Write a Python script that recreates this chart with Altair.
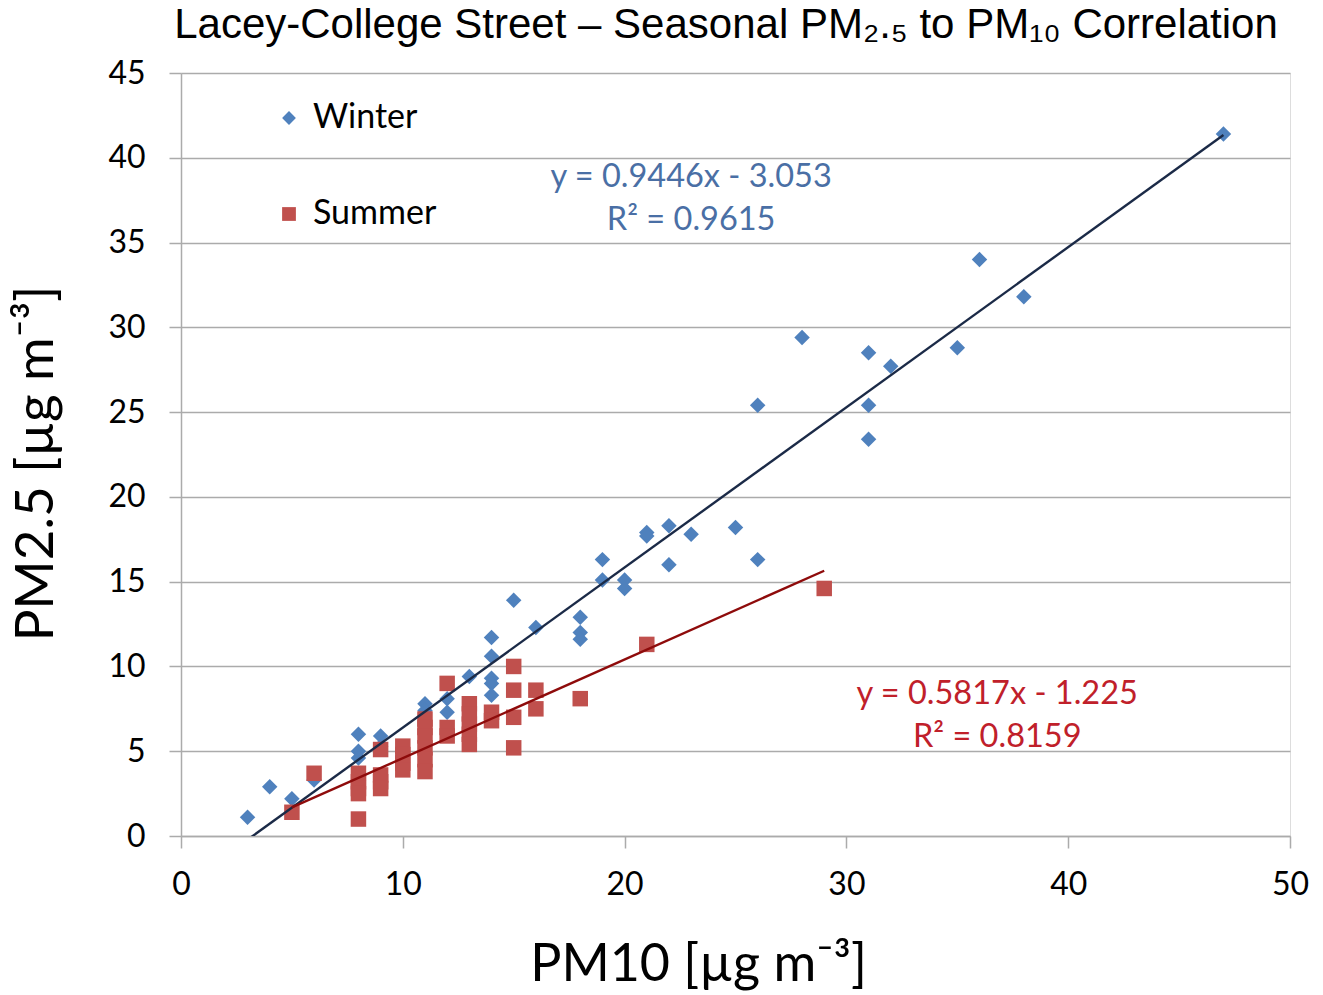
import altair as alt
import pandas as pd

# ---------------- data ----------------
winter_x = [3, 4, 5, 6, 8, 8, 8, 9, 9, 11, 11, 12, 12, 13, 14, 14, 14, 14, 14,
            15, 16, 18, 18, 18, 19, 19, 20, 20, 21, 21, 22, 22, 23, 25, 26, 26,
            28, 31, 31, 31, 32, 35, 36, 38, 47]
winter_y = [1.1, 2.9, 2.2, 3.3, 6.0, 5.0, 4.6, 5.9, 5.3, 7.8, 7.4, 8.1, 7.3, 9.4,
            11.7, 10.6, 9.3, 9.0, 8.3, 13.9, 12.3, 12.9, 12.0, 11.6, 16.3, 15.1,
            15.1, 14.6, 17.9, 17.7, 18.3, 16.0, 17.8, 18.2, 16.3, 25.4, 29.4,
            28.5, 25.4, 23.4, 27.7, 28.8, 34.0, 31.8, 41.4]

summer_x = [5, 6, 8, 8, 8, 8, 8, 9, 9, 9, 9, 10, 10, 10, 10, 11, 11, 11, 11, 11, 11,
            12, 12, 12, 13, 13, 13, 13, 13, 14, 14, 15, 15, 15, 15, 16, 16, 18, 21, 29]
summer_y = [1.4, 3.7, 3.7, 3.2, 2.8, 2.5, 1.0, 5.1, 3.6, 3.2, 2.8, 5.3, 4.8, 4.3, 3.9,
            6.9, 6.4, 5.9, 5.2, 4.5, 3.8, 9.0, 6.4, 5.9, 7.8, 7.2, 6.6, 6.0, 5.4,
            7.3, 6.8, 10.0, 8.6, 7.0, 5.2, 8.6, 7.5, 8.1, 11.3, 14.6]

seasons = ["Winter", "Summer"]
season_colors = ["#4F81BD", "#C0504D"]
season_shapes = ["diamond", "square"]

# trendline coefficients (slope, intercept, R^2) as printed on the chart
winter_fit = [0.9446, -3.053, 0.9615]
summer_fit = [0.5817, -1.225, 0.8159]

x_ticks = [0, 10, 20, 30, 40, 50]
y_ticks = [0, 5, 10, 15, 20, 25, 30, 35, 40, 45]

chart_title = "Lacey-College Street – Seasonal PM₂.₅ to PM₁₀ Correlation"

# ---------------- tables ----------------
points = pd.DataFrame({
    "pm10": winter_x + summer_x,
    "pm25": winter_y + summer_y,
    "season": ["Winter"] * len(winter_x) + ["Summer"] * len(summer_x),
})


def fit_table(xs, fit):
    x0, x1 = min(xs), max(xs)
    return pd.DataFrame({"pm10": [x0, x1],
                         "pm25": [fit[0] * x0 + fit[1], fit[0] * x1 + fit[1]]})


winter_line = fit_table(winter_x, winter_fit)
summer_line = fit_table(summer_x, summer_fit)


def eq_text(fit):
    sign = "-" if fit[1] < 0 else "+"
    return f"y = {fit[0]:.4f}x {sign} {abs(fit[1]):.3f}\nR² = {fit[2]:.4f}"


# annotation anchors (data units, first line centre)
winter_label = pd.DataFrame({"pm10": [23.0], "pm25": [38.85], "t": [eq_text(winter_fit)]})
summer_label = pd.DataFrame({"pm10": [36.8], "pm25": [8.37], "t": [eq_text(summer_fit)]})
title_df = pd.DataFrame({"t": [chart_title]})

FONT = "Lato"
GRID = "#ABABAB"

x_enc = alt.X("pm10:Q",
              scale=alt.Scale(domain=[0, 50], nice=False),
              axis=alt.Axis(values=x_ticks, grid=False, tickSize=12, labelPadding=21,
                            labelFlush=False,
                            labelFontSize=32, labelFont=FONT, labelColor="#000000",
                            domainColor=GRID, tickColor=GRID, domainWidth=1.5, tickWidth=1.5,
                            title="PM10 [µg m⁻³]", titleFont=FONT, titleFontSize=52,
                            titleFontWeight="normal", titleColor="#000000",
                            titleX=517, titleY=144, titleBaseline="alphabetic",
                            titleAlign="center"))
y_enc = alt.Y("pm25:Q",
              scale=alt.Scale(domain=[0, 45], nice=False),
              axis=alt.Axis(values=y_ticks, grid=True, gridColor=GRID, gridWidth=1.5,
                            tickSize=12, labelPadding=24, labelFlush=False,
                            labelFontSize=32, labelFont=FONT, labelColor="#000000",
                            domainColor=GRID, tickColor=GRID, domainWidth=1.5, tickWidth=1.5,
                            title="PM2.5 [µg m⁻³]", titleFont=FONT, titleFontSize=53,
                            titleFontWeight="normal", titleColor="#000000",
                            titleX=-129, titleY=390, titleBaseline="alphabetic",
                            titleAlign="center", titleAngle=270))

legend = alt.Legend(orient="none", legendX=91, legendY=28, title=None,
                    labelFont=FONT, labelFontSize=34, labelColor="#000000",
                    symbolSize=190, rowPadding=62, labelOffset=7,
                    padding=0, symbolStrokeWidth=0)

pts = alt.Chart(points).mark_point(filled=True, opacity=1, size=240, strokeWidth=0).encode(
    x=x_enc,
    y=y_enc,
    color=alt.Color("season:N", scale=alt.Scale(domain=seasons, range=season_colors),
                    legend=legend),
    shape=alt.Shape("season:N", scale=alt.Scale(domain=seasons, range=season_shapes),
                    legend=legend),
    order=alt.Order("season:N", sort="descending"),
)

wline = alt.Chart(winter_line).mark_line(color="#1B2A47", strokeWidth=2.4, clip=True).encode(
    x="pm10:Q", y="pm25:Q")
sline = alt.Chart(summer_line).mark_line(color="#8E0B0B", strokeWidth=2.4, clip=True).encode(
    x="pm10:Q", y="pm25:Q")

wtext = alt.Chart(winter_label).mark_text(font=FONT, fontSize=32.5, color="#4A6FA5",
                                          lineBreak="\n", lineHeight=43, align="center",
                                          baseline="middle").encode(
    x="pm10:Q", y="pm25:Q", text="t:N")
stext = alt.Chart(summer_label).mark_text(font=FONT, fontSize=32.5, color="#C0202A",
                                          lineBreak="\n", lineHeight=43, align="center",
                                          baseline="middle").encode(
    x="pm10:Q", y="pm25:Q", text="t:N")

ttl = alt.Chart(title_df).mark_text(font="Liberation Sans", fontSize=42, color="#000000",
                                    align="center", baseline="alphabetic").encode(
    x=alt.value(545), y=alt.value(-35), text="t:N")

chart = alt.layer(pts, wline, sline, wtext, stext, ttl).properties(
    width=1109,
    height=763,
    autosize=alt.AutoSizeParams(type="none"),
    padding={"left": 173, "top": 65, "right": 25, "bottom": 158},
).configure_view(stroke=None).configure(background="white")

chart.save("out.html", embed_options={"renderer": "svg", "actions": False})
